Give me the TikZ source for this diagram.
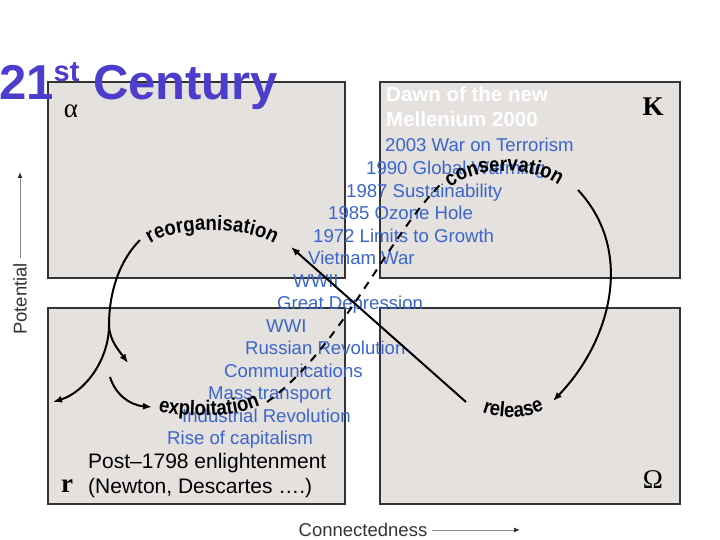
\documentclass[tikz,border=0pt]{standalone}
\usepackage{fontspec}
\setmainfont{Liberation Sans}
\newfontfamily\cornerserif{Liberation Serif}
\newfontfamily\phasesans[FakeStretch=0.88]{Liberation Sans}
\usetikzlibrary{arrows.meta,decorations.text}
\definecolor{titleblue}{HTML}{4D3DCC}
\definecolor{eventblue}{HTML}{3A66CC}
\definecolor{boxfill}{HTML}{E4E1DE}
\definecolor{boxline}{HTML}{333333}
\definecolor{axisgray}{HTML}{8C8C8C}
\newcommand\eventfont{\fontsize{18.6}{18.6}\selectfont}
\newcommand\phasefont{\phasesans\bfseries\fontsize{21}{21}\selectfont}
\newcommand\cornerfont{\cornerserif\fontsize{27}{27}\selectfont}
\tikzset{>=Latex,
  quadrant/.style={draw=boxline,fill=boxfill,line width=1.4pt},
  headline/.style={anchor=base west,inner sep=0pt,text=titleblue,
    font=\bfseries\fontsize{49}{49}\selectfont},
  event/.style={anchor=base west,inner sep=0pt,text=eventblue,font=\eventfont},
  dawn/.style={anchor=base west,inner sep=0pt,text=white,
    font=\bfseries\fontsize{20.5}{20.5}\selectfont},
  era/.style={anchor=base west,inner sep=0pt,font=\fontsize{21}{21}\selectfont},
  corner/.style={inner sep=0pt,font=\cornerfont},
  axislabel/.style={inner sep=0pt,text=black!80,font=\fontsize{18.5}{18.5}\selectfont},
  axisarrow/.style={draw=axisgray,line width=1pt,shorten <=5pt,
    -{Latex[length=6pt,width=5pt,color=black!80]}},
  loopline/.style={line width=2pt,-{Latex[length=9pt,width=7pt]}},
  phaselabel/.style={decorate,decoration={text along path,text align=center,
    text={|\phasefont|#1}}}}

\begin{document}
\begin{tikzpicture}[x=1pt,y=-1pt]
\useasboundingbox (0,0) rectangle (720,540);
\draw[quadrant] (48,82) rectangle (345,278);
\draw[quadrant] (380,82) rectangle (680,278);
\draw[quadrant] (48,308) rectangle (345,504);
\draw[quadrant] (380,308) rectangle (680,504);
\node[headline] (title) at (-1,100) {21\raisebox{18pt}{\fontsize{29}{29}\selectfont st} Century};
\node[corner] (alpha) at (71,111) {α};
\node[corner,font=\cornerfont\bfseries] (kappa) at (653,107) {K};
\node[corner,font=\cornerfont\bfseries] (r) at (67,486) {r};
\node[corner] (omega) at (653,480) {Ω};

\node[dawn] (dawn) at (386,102) {Dawn of the new};
\node[dawn] (millennium) at (386,127) {Mellenium 2000};
\node[event] (terror) at (385,152) {2003 War on Terrorism};
\node[event] (warming) at (366,174.5) {1990 Global Warming};
\node[event] (sustain) at (346,197) {1987 Sustainability};
\node[event] (ozone) at (328,219.5) {1985 Ozone Hole};
\node[event] (limits) at (313,242) {1972 Limits to Growth};
\node[event] (vietnam) at (308,264.5) {Vietnam War};
\node[event] (wwii) at (293,287) {WWII};
\node[event] (depression) at (277,309.5) {Great Depression};
\node[event] (wwi) at (266,332) {WWI};
\node[event] (russian) at (245,354.5) {Russian Revolution};
\node[event] (comms) at (224,377) {Communications};
\node[event] (transport) at (208,399.5) {Mass transport};
\node[event] (industrial) at (182,422) {Industrial Revolution};
\node[event] (capital) at (167,444.5) {Rise of capitalism};
\node[era] (post) at (88,468) {Post–1798 enlightenment};
\node[era] (newton) at (88,493) {(Newton, Descartes ….)};

\path[phaselabel=reorganisation] (145,248) .. controls (165,226) and (250,223) .. (280,248);
\path[phaselabel=conservation] (438,200) .. controls (460,166) and (537,158) .. (572,197);
\path[phaselabel=exploitation] (154,410) .. controls (180,418) and (235,419) .. (264,404);
\path[phaselabel=release] (472,407) .. controls (490,421) and (534,421) .. (554,404);

\coordinate (reo-s) at (140,240);
\coordinate (reo-tip) at (291,247);
\coordinate (fork) at (109,325);
\coordinate (down-tip) at (128,363);
\coordinate (left-tip) at (53,402);
\coordinate (exp-s) at (110,377);
\coordinate (exp-tip) at (152,407);
\coordinate (exp-e) at (267,402);
\coordinate (con-s) at (440,185);
\coordinate (con-e) at (578,190);
\coordinate (rel-tip) at (553,401);
\coordinate (rel-w) at (466,402);

\draw[line width=2pt] (reo-s) .. controls (118,262) and (109,295) .. (fork);
\draw[loopline] (fork) .. controls (109,340) and (120,352) .. (down-tip);
\draw[loopline] (fork) .. controls (109,360) and (85,392) .. (left-tip);
\draw[loopline] (exp-s) .. controls (115,393) and (128,405) .. (exp-tip);
\draw[line width=2pt,dash pattern=on 8pt off 7pt] (exp-e) .. controls (340,349) and (387,238) .. (con-s);
\draw[loopline] (con-e) .. controls (635,251) and (611,341) .. (rel-tip);
\draw[loopline] (rel-w) -- (reo-tip);

\node[axislabel,rotate=90] (potential) at (20,299) {Potential};
\coordinate (potential-tip) at (20,172);
\draw[axisarrow] (potential) -- (potential-tip);
\node[axislabel] (connectedness) at (363,530) {Connectedness};
\coordinate (connectedness-tip) at (520,530);
\draw[axisarrow] (connectedness) -- (connectedness-tip);
\end{tikzpicture}
\end{document}
